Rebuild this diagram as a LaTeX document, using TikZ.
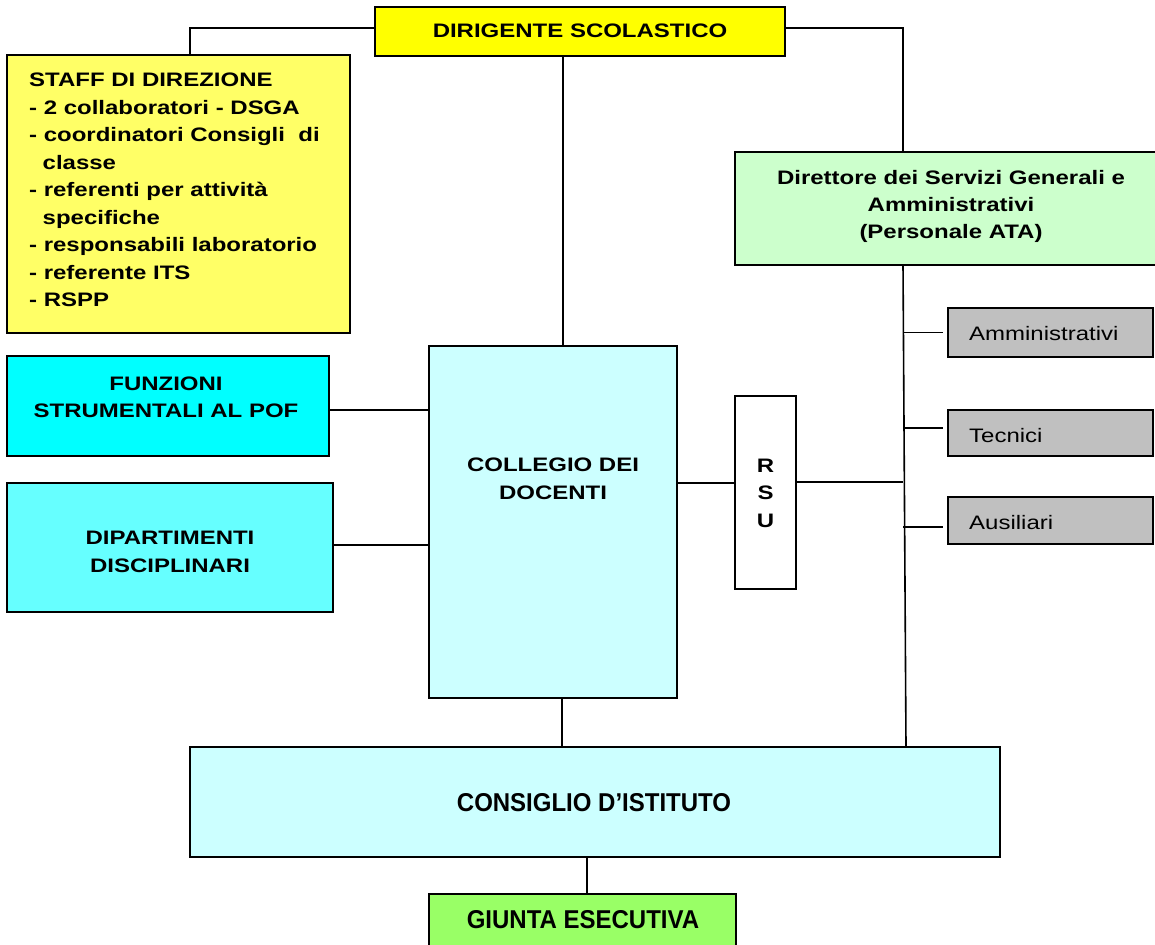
\documentclass[tikz,border=0pt]{standalone}
\usepackage{fontspec}
\setmainfont{Liberation Sans}[FakeStretch=1.23]
\newfontfamily\plainsans{Liberation Sans}[FakeStretch=0.93]
\definecolor{dsyellow}{HTML}{FFFF00}
\definecolor{staffyellow}{HTML}{FFFF66}
\definecolor{dsgagreen}{HTML}{CCFFCC}
\definecolor{funzcyan}{HTML}{00FFFF}
\definecolor{dipcyan}{HTML}{66FFFF}
\definecolor{palecyan}{HTML}{CCFFFF}
\definecolor{atagrey}{HTML}{C0C0C0}
\definecolor{giuntagreen}{HTML}{99FF66}
\tikzset{
  box/.style={draw=black, line width=1.6pt, inner sep=0pt, outer sep=0pt},
  txt/.style={inner sep=0pt, font=\fontsize{19.5}{27.5}\selectfont\bfseries},
  txtw/.style={inner sep=0pt, font=\fontsize{19.5}{28}\selectfont\bfseries},
  reg/.style={inner sep=0pt, anchor=base west, font=\fontsize{19.5}{27.5}\selectfont},
  big/.style={inner sep=0pt, anchor=base, font=\plainsans\fontsize{25.8}{30}\selectfont\bfseries},
  wire/.style={line width=1.6pt}
}
\begin{document}
\begin{tikzpicture}[x=1pt,y=-1pt]
\useasboundingbox (0,0) rectangle (1155,944);
\fill[white] (0,0) rectangle (1155,944);
\clip (0,0) rectangle (1155,944);

% boxes
\node[box, fill=dsyellow, minimum width=410pt, minimum height=49pt] (dir) at (580,31.5) {};
\node[box, fill=staffyellow, minimum width=343pt, minimum height=278pt] (staff) at (178.5,194) {};
\node[box, fill=dsgagreen, minimum width=430pt, minimum height=113pt] (dsga) at (950,208.5) {};
\node[box, fill=funzcyan, minimum width=322pt, minimum height=100pt] (funz) at (168,406) {};
\node[box, fill=dipcyan, minimum width=326pt, minimum height=129pt] (dip) at (170,547.5) {};
\node[box, fill=palecyan, minimum width=248pt, minimum height=352pt] (col) at (553,522) {};
\node[box, fill=white, minimum width=61pt, minimum height=193pt] (rsu) at (765.5,492.5) {};
\node[box, fill=atagrey, minimum width=205pt, minimum height=49pt] (amm) at (1050.5,332.5) {};
\node[box, fill=atagrey, minimum width=205pt, minimum height=46pt] (tec) at (1050.5,433) {};
\node[box, fill=atagrey, minimum width=205pt, minimum height=47pt] (aus) at (1050.5,520.5) {};
\node[box, fill=palecyan, minimum width=810pt, minimum height=110pt] (cons) at (595,802) {};
\node[box, fill=giuntagreen, minimum width=307pt, minimum height=66pt] (giunta) at (582.5,927) {};

% texts
\node[txt, anchor=base] (dirT) at (580,38) {DIRIGENTE SCOLASTICO};
\node[txt, anchor=base west] (staffT) at (29,87) {\begin{tabular}[t]{@{}l@{}}
STAFF DI DIREZIONE\\
- 2 collaboratori - DSGA\\
- coordinatori Consigli\ \ di\\
\hspace*{13.5pt}classe\\
- referenti per attività\\
\hspace*{13.5pt}specifiche\\
- responsabili laboratorio\\
- referente ITS\\
- RSPP
\end{tabular}};
\node[txt, anchor=base] (dsgaT) at (951,184) {\begin{tabular}[t]{@{}c@{}}
Direttore dei Servizi Generali e\\
Amministrativi\\
(Personale ATA)
\end{tabular}};
\node[txt, anchor=base] (funzT) at (166,390) {\begin{tabular}[t]{@{}c@{}}
FUNZIONI\\
STRUMENTALI AL POF
\end{tabular}};
\node[txtw, anchor=base] (dipT) at (170,544) {\begin{tabular}[t]{@{}c@{}}
DIPARTIMENTI\\
DISCIPLINARI
\end{tabular}};
\node[txtw, anchor=base] (colT) at (553,471) {\begin{tabular}[t]{@{}c@{}}
COLLEGIO DEI\\
DOCENTI
\end{tabular}};
\node[txt, anchor=base] (rsuT) at (765.5,472) {\begin{tabular}[t]{@{}c@{}}
R\\ S\\ U
\end{tabular}};
\node[reg] (ammT) at (969,340) {Amministrativi};
\node[reg] (tecT) at (969,442) {Tecnici};
\node[reg] (ausT) at (969,529) {Ausiliari};
\node[big] (consT) at (594,811) {CONSIGLIO D’ISTITUTO};
\node[big] (giuntaT) at (583,928) {GIUNTA ESECUTIVA};

% junction coordinates
\coordinate (jl) at (190,28);
\coordinate (jr) at (903,28);
\coordinate (vtop) at (563,0);
\coordinate (vbot) at (562,0);
\coordinate (vg) at (587,0);
\coordinate (va) at (903,0);
\coordinate (vb) at (906,0);
\coordinate (hf) at (0,410);
\coordinate (hd) at (0,545);
\coordinate (hr) at (0,483);
\coordinate (hs) at (0,482);

% connectors
\draw[wire] (dir.west |- jl) -- (jl) -- (jl |- staff.north);
\draw[wire] (dir.east |- jr) -- (jr) -- (jr |- dsga.north);
\draw[wire] (dir.south -| vtop) -- (col.north -| vtop);
\draw[wire] (col.south -| vbot) -- (cons.north -| vbot);
\draw[wire] (cons.south -| vg) -- (giunta.north -| vg);
\draw[wire] (dsga.south -| va) -- (cons.north -| vb);
\draw[wire] (funz.east |- hf) -- (col.west |- hf);
\draw[wire] (dip.east |- hd) -- (col.west |- hd);
\draw[wire] (col.east |- hr) -- (rsu.west |- hr);
\draw[wire] (rsu.east |- hs) -- (hs -| va);
\draw[wire] (amm.west -| va) -- ([xshift=-5pt]amm.west);
\draw[wire] ([yshift=5pt]tec.west -| va) -- ([xshift=-5pt,yshift=5pt]tec.west);
\draw[wire] ([yshift=-6.5pt]aus.west -| va) -- ([xshift=-5pt,yshift=-6.5pt]aus.west);
\end{tikzpicture}
\end{document}
